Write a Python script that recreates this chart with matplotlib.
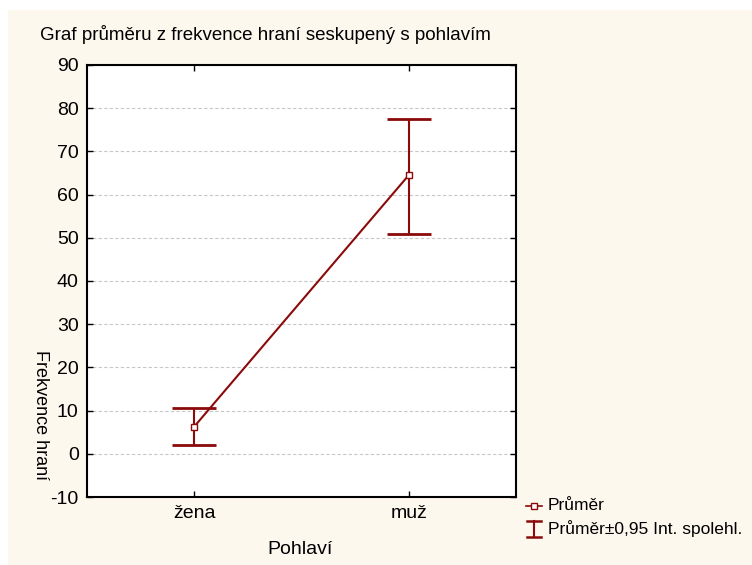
import matplotlib.pyplot as plt
from matplotlib.patches import Rectangle
from matplotlib.lines import Line2D

# data
categories = ['žena', 'muž']
means = [6.3, 64.5]
ci_low = [2.0, 50.9]
ci_high = [10.7, 77.5]
yticks = [-10, 0, 10, 20, 30, 40, 50, 60, 70, 80, 90]

dark_red = '#8b0a0a'
cream = '#fdf8ee'

plt.rcParams['font.family'] = ['Liberation Sans', 'DejaVu Sans']
plt.rcParams['axes.unicode_minus'] = False


def main():
    fig = plt.figure(figsize=(7.52, 5.65), dpi=100)
    fig.patch.set_facecolor('white')
    # cream panel behind everything (white strip on top and left)
    fig.patches.append(Rectangle((8 / 752, 0), 1, 1 - 10 / 565, transform=fig.transFigure,
                                 facecolor=cream, edgecolor='none', zorder=-10))

    ax = fig.add_axes([87 / 752, 1 - 497 / 565, (516 - 87) / 752, (497 - 65) / 565])
    ax.set_facecolor('white')

    x = list(range(len(categories)))
    err_lo = [m - lo for m, lo in zip(means, ci_low)]
    err_hi = [hi - m for m, hi in zip(means, ci_high)]

    ax.errorbar(x, means, yerr=[err_lo, err_hi], fmt='none', ecolor=dark_red,
                elinewidth=1.5, capsize=16, capthick=2, zorder=3)
    ax.plot(x, means, color=dark_red, linewidth=1.5, marker='s', markersize=5,
            markerfacecolor='white', markeredgecolor=dark_red, markeredgewidth=1, zorder=4)

    ax.set_xlim(-0.5, 1.5)
    ax.set_ylim(-10, 90)
    ax.set_xticks(x)
    ax.set_xticklabels(categories)
    ax.set_yticks(yticks)
    ax.tick_params(direction='in', length=4, width=1, labelsize=14, top=True, right=True, pad=6)
    ax.yaxis.grid(True, linestyle=(0, (3, 2)), color='#c8c8c8', linewidth=0.8)
    ax.set_axisbelow(True)
    for s in ax.spines.values():
        s.set_linewidth(1.5)

    fig.text(40 / 752, 1 - 35 / 565, 'Graf průměru z frekvence hraní seskupený s pohlavím',
             fontsize=13.5, ha='left', va='center')
    fig.text(300 / 752, 1 - 550 / 565, 'Pohlaví', fontsize=14, ha='center', va='center')
    fig.text(40 / 752, 1 - 415 / 565, 'Frekvence hraní', fontsize=13, rotation=-90,
             ha='center', va='center')

    # legend, placed by hand outside the axes
    fig.text(548 / 752, 1 - 506 / 565, 'Průměr', fontsize=12.5, ha='left', va='center')
    fig.text(548 / 752, 1 - 529 / 565, 'Průměr±0,95 Int. spolehl.', fontsize=12.5,
             ha='left', va='center')
    fig.add_artist(Line2D([526 / 752, 542 / 752], [1 - 506 / 565, 1 - 506 / 565],
                          color=dark_red, linewidth=1.2))
    fig.add_artist(Line2D([534 / 752], [1 - 506 / 565], color=dark_red, marker='s',
                          markersize=5, markerfacecolor='white', markeredgecolor=dark_red,
                          linestyle='none'))
    fig.add_artist(Line2D([534 / 752, 534 / 752], [1 - 521 / 565, 1 - 537 / 565],
                          color=dark_red, linewidth=1.5))
    fig.add_artist(Line2D([527 / 752, 541 / 752], [1 - 521 / 565, 1 - 521 / 565],
                          color=dark_red, linewidth=1.8))
    fig.add_artist(Line2D([527 / 752, 541 / 752], [1 - 537 / 565, 1 - 537 / 565],
                          color=dark_red, linewidth=1.8))

    fig.savefig('out.png', dpi=100, facecolor=fig.get_facecolor())


if __name__ == "__main__":
    main()
